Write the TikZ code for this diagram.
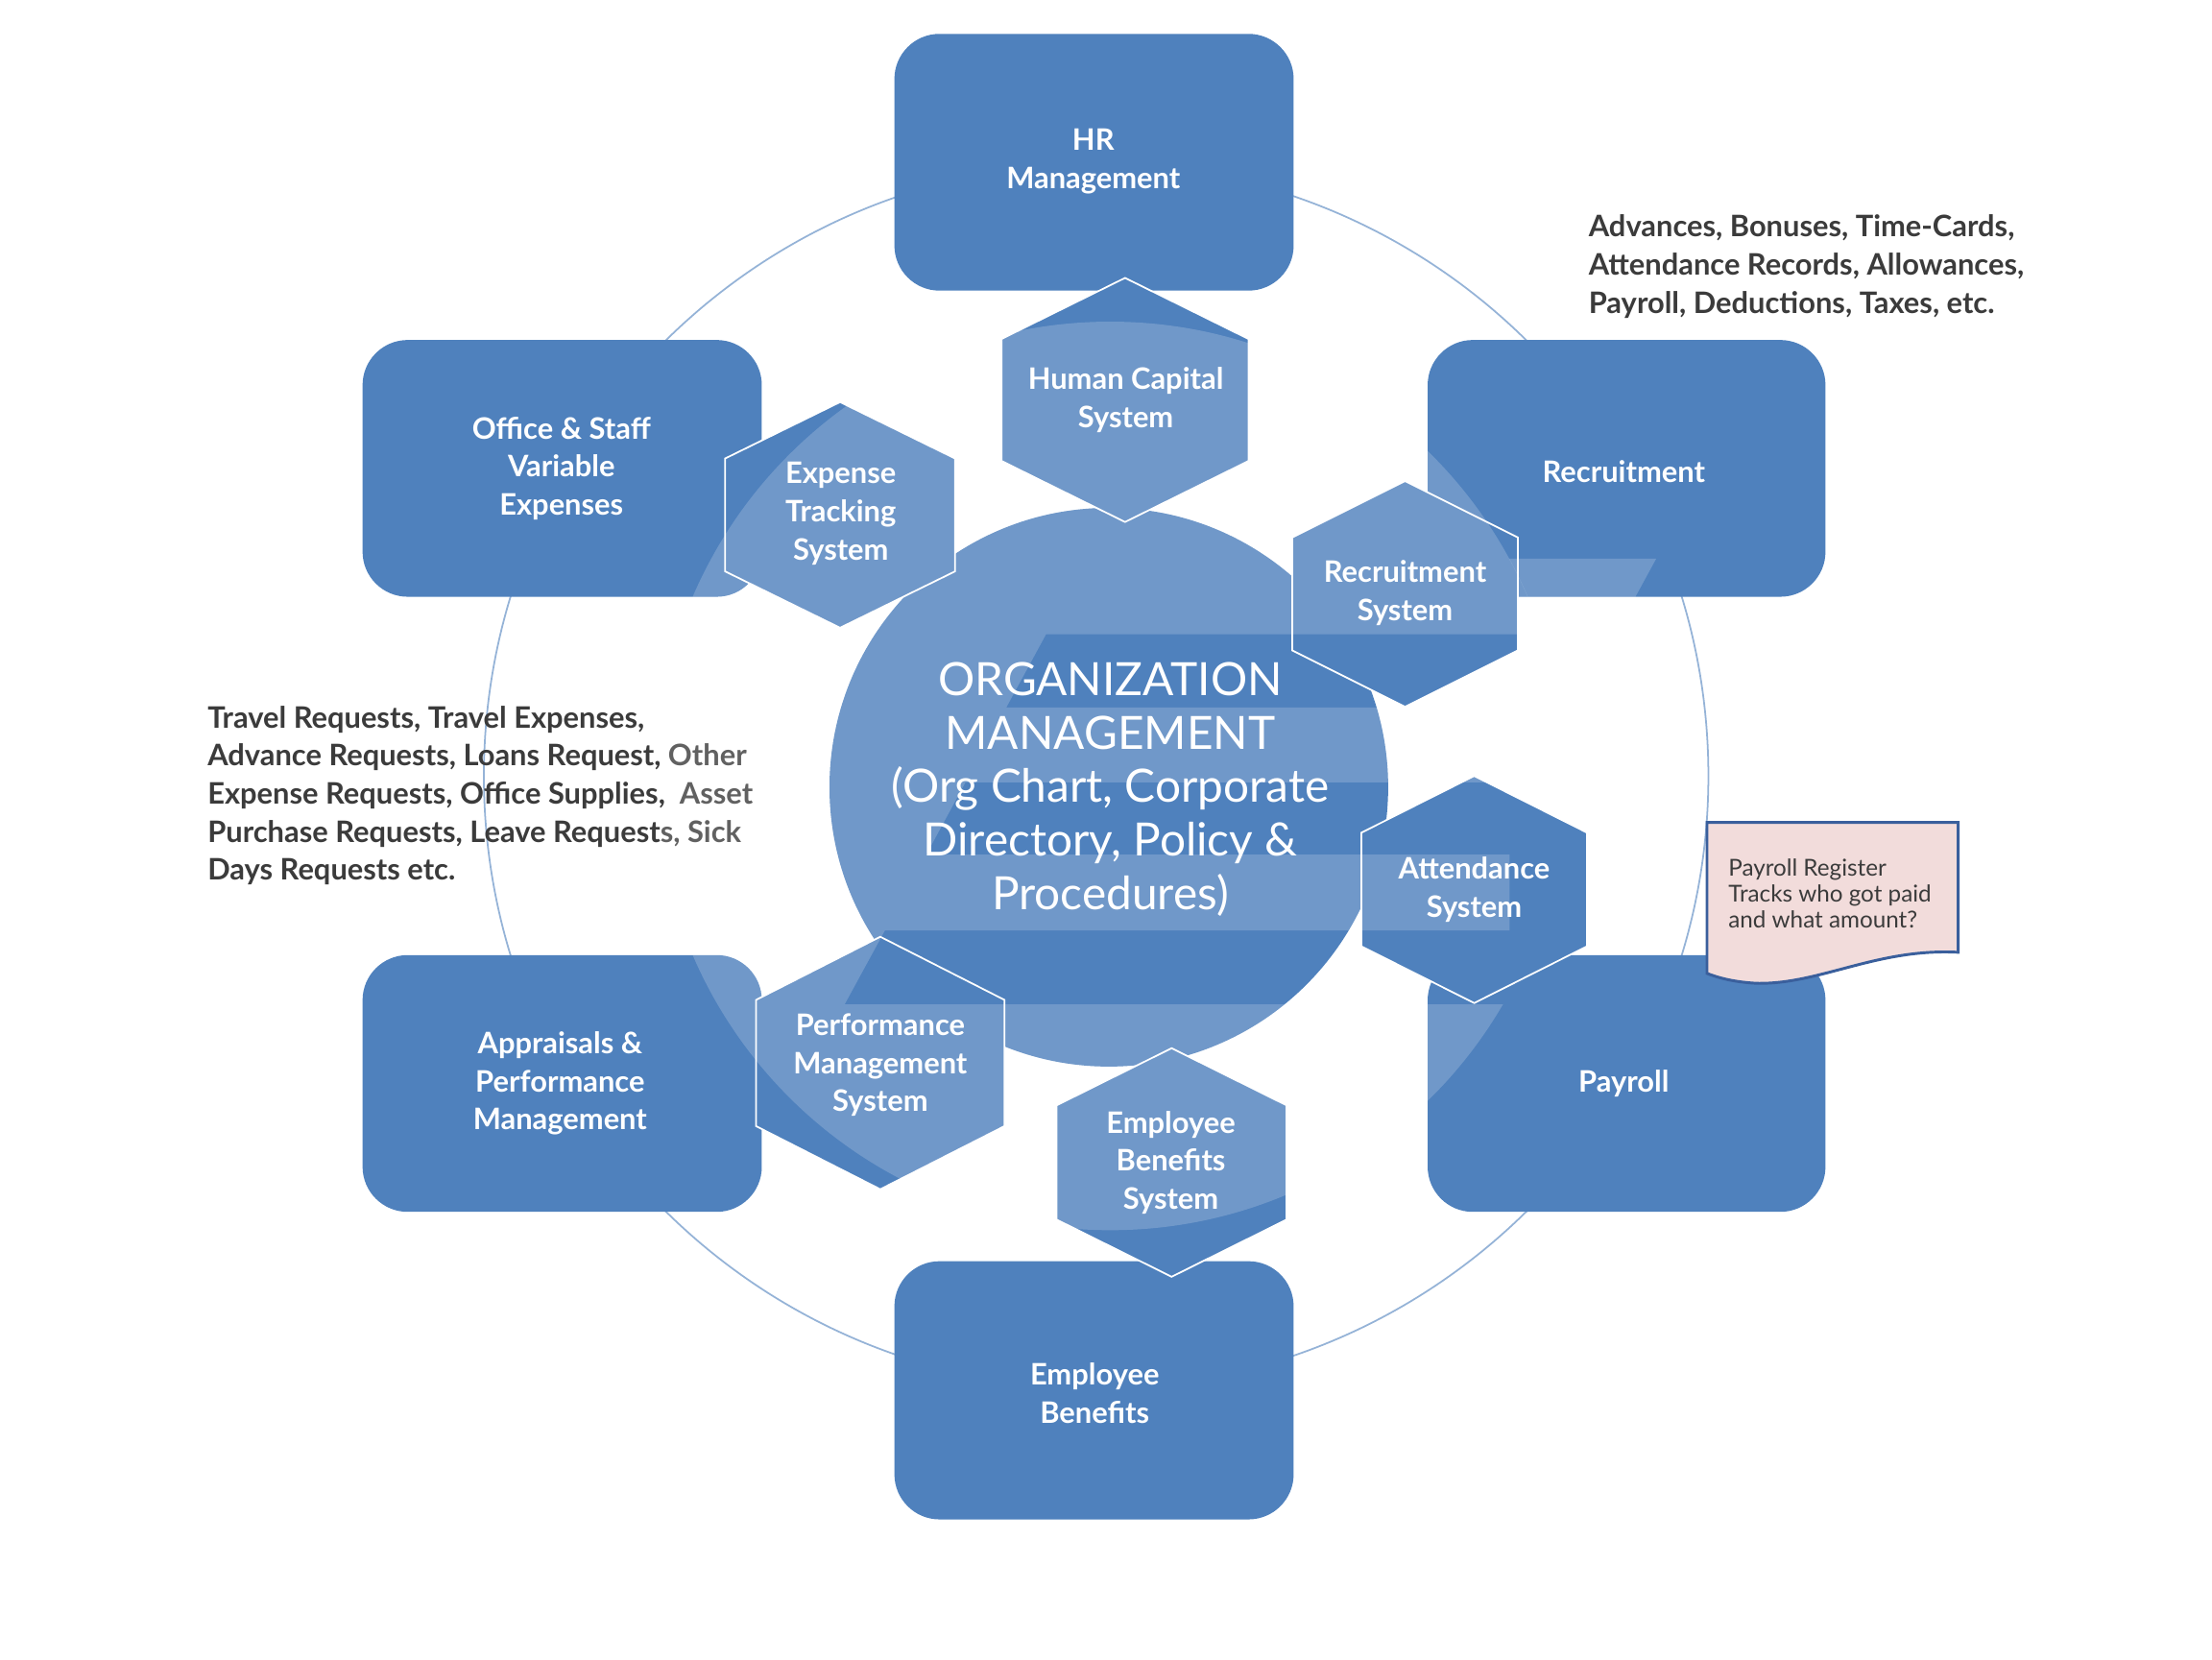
\documentclass[tikz,border=0pt]{standalone}
\usepackage{fontspec}
\setmainfont{Lato}
\definecolor{boxblue}{HTML}{4F81BD}
\definecolor{ringblue}{HTML}{95B3D7}
\definecolor{notefill}{HTML}{F2DCDB}
\definecolor{noteline}{HTML}{3A5F9C}
\definecolor{txtdark}{HTML}{3B3B3B}
\definecolor{txtlight}{HTML}{616161}
\tikzset{
  wmstyle/.style={fill=white, fill opacity=0.19},
  boxlabel/.style={text=white, font=\bfseries\fontsize{21}{27}\selectfont, align=center, inner sep=0pt},
  centerlabel/.style={text=white, font=\fontsize{32.5}{38}\selectfont, align=center, inner sep=0pt},
  sidetext/.style={text=txtdark, font=\bfseries\fontsize{21}{27}\selectfont, align=left, inner sep=0pt, anchor=west},
  notetext/.style={text=txtdark, font=\fontsize{16.5}{18.5}\selectfont, align=left, inner sep=0pt, anchor=west},
  hexline/.style={draw=white, line width=1.2pt},
}
% translucent watermark (light regions)
\newcommand\wmfill{%
  \fill[wmstyle] (1092.9,449.6) arc[start angle=-18.17, end angle=-28.57, radius=322] -- (1174,396) -- (1144.8,449.6) -- cycle;
  \begin{scope}
    \clip (787,550) circle (322);
    \fill[wmstyle] (0,0) -- (1568,0) -- (1568,449.6) -- (741.5,449.6) -- (713.3,501.5) -- (1568,501.5) -- (1568,554.5) -- (684.4,554.5) -- (656.6,605.7) -- (1070,605.7) -- (1070,659.5) -- (627.3,659.5) -- (598.7,712) -- (1568,712) -- (1568,1176) -- (0,1176) -- cycle;
  \end{scope}}
\newcommand\rbox[4]{%
  \fill[boxblue, rounded corners=32pt] (#1,#2) rectangle (#3,#4);
  \begin{scope}\clip[rounded corners=32pt] (#1,#2) rectangle (#3,#4);\wmfill\end{scope}}
\newcommand\hexp[4]{(#1,{#2-#4}) -- ({#1+#3},{#2-#4/2}) -- ({#1+#3},{#2+#4/2}) -- (#1,{#2+#4}) -- ({#1-#3},{#2+#4/2}) -- ({#1-#3},{#2-#4/2}) -- cycle}
\newcommand\hexa[4]{%
  \fill[boxblue] \hexp{#1}{#2}{#3}{#4};
  \begin{scope}\clip \hexp{#1}{#2}{#3}{#4};\wmfill\end{scope}
  \draw[hexline] \hexp{#1}{#2}{#3}{#4};}
\begin{document}
\begin{tikzpicture}[x=1pt,y=-1pt]
\useasboundingbox (0,0) rectangle (1568,1176);
% outer thin ring
\draw[ringblue, line width=1.2pt] (777,550) circle (434);
% rounded boxes
\rbox{634}{24}{917}{206}
\rbox{257}{241}{540}{423}
\rbox{1012}{241}{1294}{423}
\rbox{257}{677}{540}{859}
\rbox{1012}{677}{1294}{859}
\rbox{634}{894}{917}{1077}
% central circle
\fill[boxblue] (786,558) circle (198);
\begin{scope}\clip (786,558) circle (198);\wmfill\end{scope}
% hexagons
\hexa{797.5}{283.5}{87.5}{86.5}
\hexa{595.5}{365}{81.5}{80}
\hexa{996}{421}{80}{80}
\hexa{1045}{630.5}{80}{80.5}
\hexa{624}{753.5}{88}{89.5}
\hexa{830.5}{824}{81.5}{81}
% note
\filldraw[fill=notefill, draw=noteline, line width=2pt] (1210,583) -- (1388,583) -- (1388,675) .. controls (1330,672) and (1290,698) .. (1245,697) .. controls (1228,696) and (1218,693) .. (1210,690) -- cycle;
% labels
\node[boxlabel] (hr) at (775,114.5) {HR\\Management};
\node[boxlabel] (office) at (398,332) {Office \& Staff\\Variable\\Expenses};
\node[boxlabel] (recr) at (1151,334) {Recruitment};
\node[boxlabel] (appr) at (397,768) {Appraisals \&\\Performance\\Management};
\node[boxlabel] (pay) at (1151,768) {Payroll};
\node[boxlabel] (eb) at (776,987.5) {Employee\\Benefits};
\node[boxlabel] (hcs) at (798,283.5) {Human Capital\\System};
\node[boxlabel] (ets) at (596,364) {Expense\\Tracking\\System};
\node[boxlabel] (rs) at (996,420.5) {Recruitment\\System};
\node[boxlabel] (as) at (1045,630.5) {Attendance\\System};
\node[boxlabel] (pms) at (624,755) {Performance\\Management\\System};
\node[boxlabel] (ebs) at (830,824) {Employee\\Benefits\\System};
\node[centerlabel] (org) at (787,559.5) {ORGANIZATION\\MANAGEMENT\\(Org Chart, Corporate\\Directory, Policy \&\\Procedures)};
\node[sidetext] (left) at (147,564) {Travel Requests, Travel Expenses,\\Advance Requests, Loans Request, \textcolor{txtlight}{Other}\\Expense Requests, Office Supplies, \ \textcolor{txtlight}{Asset}\\Purchase Requests, Leave Request\textcolor{txtlight}{s, Sick}\\Days Requests etc.};
\node[sidetext] (right) at (1126,189) {Advances, Bonuses, Time-Cards,\\Attendance Records, Allowances,\\Payroll, Deductions, Taxes, etc.};
\node[notetext] (note) at (1225,633.5) {Payroll Register\\Tracks who got paid\\and what amount?};
\end{tikzpicture}
\end{document}
